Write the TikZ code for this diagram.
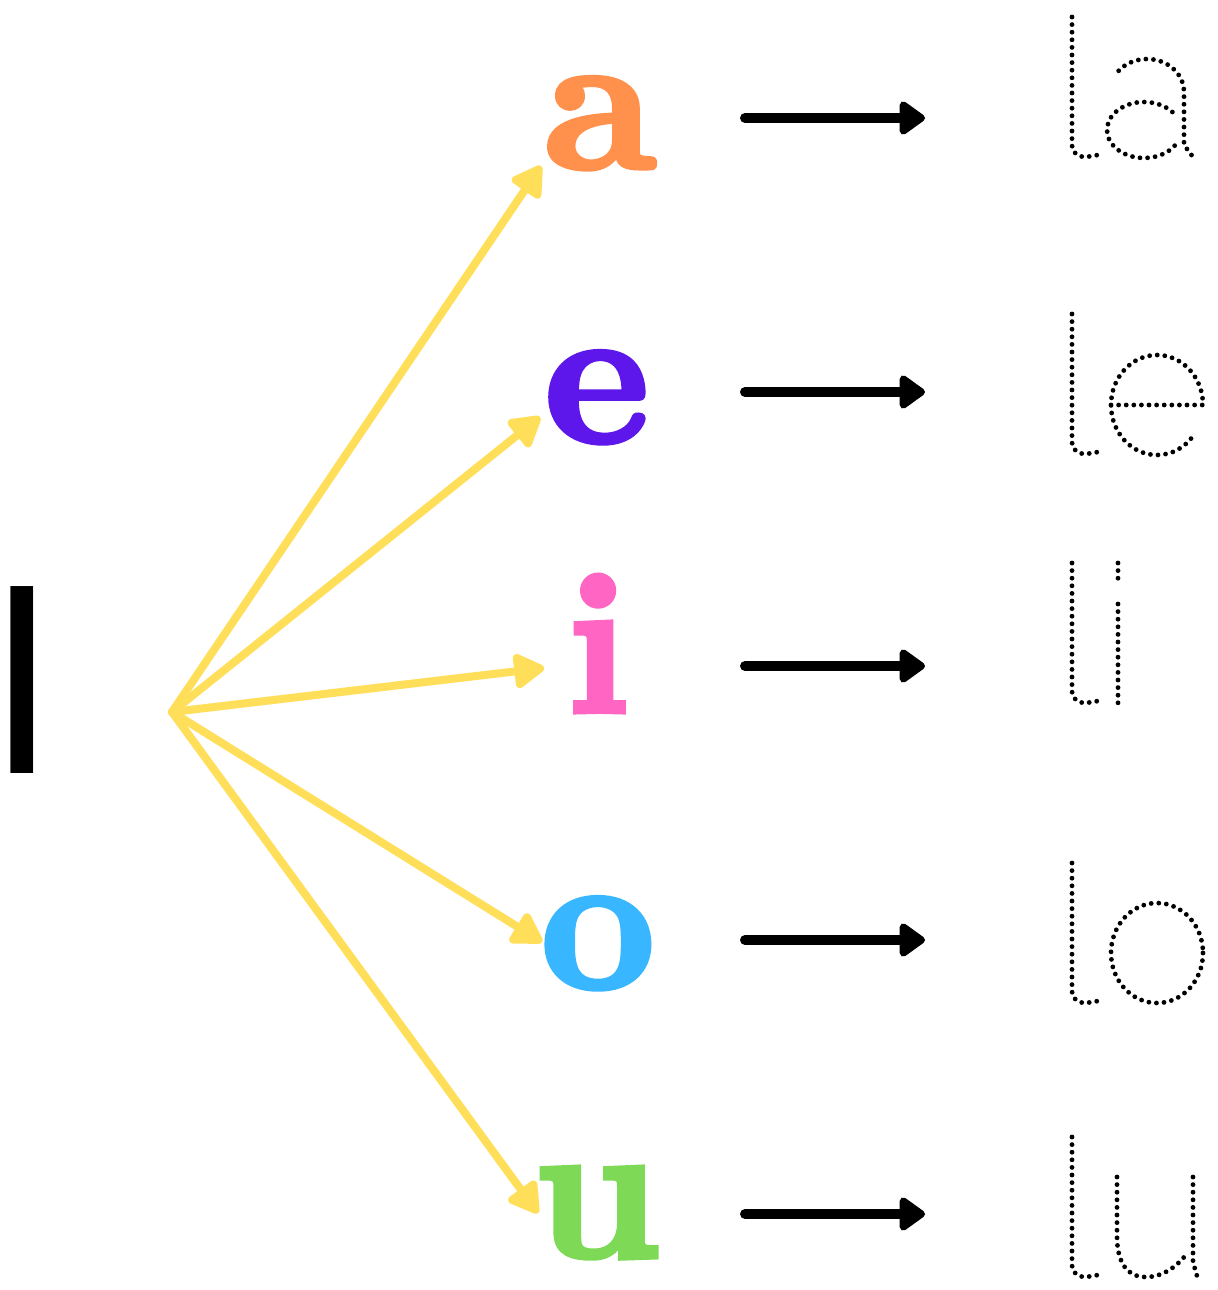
\documentclass[tikz,border=0pt]{standalone}
\usepackage{fontspec}
\usetikzlibrary{arrows.meta}
\newfontfamily\vowelfont{lmroman10-bold.otf}[FakeBold=2.5]
\newfontfamily\bigfont{Liberation Sans}
\definecolor{vorange}{HTML}{FF914D}
\definecolor{vpurple}{HTML}{5E17EB}
\definecolor{vpink}{HTML}{FF66C4}
\definecolor{vblue}{HTML}{38B6FF}
\definecolor{vgreen}{HTML}{7ED957}
\definecolor{vyellow}{HTML}{FFDE59}
\tikzset{
  vowel/.style={inner sep=0pt, anchor=base, font=\vowelfont\fontsize{100bp}{110bp}\selectfont},
  yarrow/.style={draw=vyellow, line width=4bp, line cap=round, line join=round,
    -{Triangle[round, length=17bp, width=19bp]}},
  karrow/.style={draw=black, line width=5bp, line cap=round,
    -{Triangle[round, length=14bp, width=19bp]}},
  tracedots/.style={draw=black, line width=2.4bp, line cap=round, dash pattern=on 0pt off 3.8bp}
}
\newcommand\mytracel[1]{%
  \draw[tracedots] (1072,#1) -- (1072,#1+128) .. controls (1072,#1+136) and (1078,#1+140) .. (1086,#1+140) -- (1098,#1+138);}
\begin{document}
\begin{tikzpicture}[x=0.5bp,y=-0.5bp]
\useasboundingbox (0,0) rectangle (1218,1290);
% big l
\node[inner sep=0pt, anchor=base west, font=\bigfont\fontsize{129bp}{140bp}\selectfont] (bigl) at (2,773) {\kern-0.035em l};
% vowels
\node[vowel, text=vorange] (va) at (600,168) {a};
\node[vowel, text=vpurple] (ve) at (597,442) {e};
\node[vowel, text=vpink] (vi) at (598,712) {i};
\node[vowel, text=vblue] (vo) at (598,988) {o};
\node[vowel, text=vgreen] (vu) at (597,1257) {u};
% yellow arrows
\coordinate (hub) at (172,712);
\coordinate (ta) at (541,166);
\coordinate (te) at (540,417);
\coordinate (ti) at (544,668);
\coordinate (to) at (542,942);
\coordinate (tu) at (538,1213);
\foreach \t in {ta,te,ti,to,tu} \draw[yarrow] (hub) -- (\t);
% black arrows
\foreach \n/\y in {a/118,e/392,i/666,o/940,u/1214}{
  \coordinate (s\n) at (745,\y);
  \coordinate (e\n) at (925,\y);
  \draw[karrow] (s\n) -- (e\n);
}
% tracing letters
\mytracel{17}
\draw[tracedots] (1144,130) ++(-40:37 and 28) arc[start angle=-40, end angle=-332, x radius=37, y radius=28];
\draw[tracedots] (1147,92) ++(-140:37 and 33) arc[start angle=-140, end angle=0, x radius=37, y radius=33] -- (1184,145) -- (1193,157);
\mytracel{314}
\draw[tracedots] (1111,405) -- (1203,405) arc[start angle=0, end angle=-322, x radius=46, y radius=50];
\mytracel{563}
\draw[tracedots] (1118,563) -- (1118,578.5);
\draw[tracedots] (1118,604) -- (1118,703);
\mytracel{863}
\draw[tracedots] (1157,953) ellipse[x radius=46, y radius=50];
\mytracel{1137}
\draw[tracedots] (1117,1177) -- (1117,1236) .. controls (1117,1264) and (1128,1277) .. (1146,1277) .. controls (1163,1277) and (1178,1266) .. (1188,1252);
\draw[tracedots] (1193,1177) -- (1193,1262) -- (1197,1276);
\end{tikzpicture}
\end{document}
